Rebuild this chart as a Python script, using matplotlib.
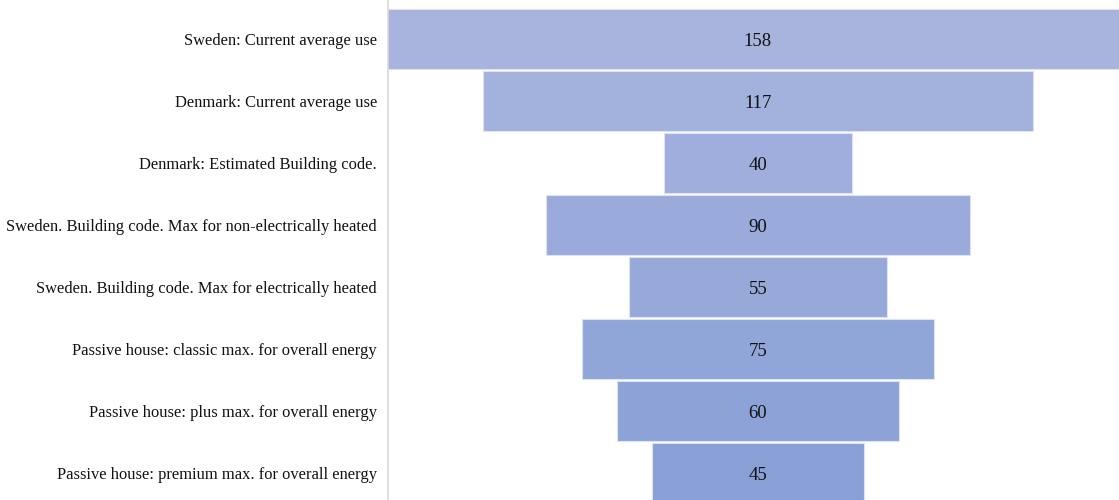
import matplotlib.pyplot as plt
import numpy as np

labels = [
    "Sweden: Current average use",
    "Denmark: Current average use",
    "Denmark: Estimated Building code.",
    "Sweden. Building code. Max for non-electrically heated",
    "Sweden. Building code. Max for electrically heated",
    "Passive house: classic max. for overall energy",
    "Passive house: plus max. for overall energy",
    "Passive house: premium max. for overall energy",
]
values = [158, 117, 40, 90, 55, 75, 60, 45]

plt.rcParams['font.family'] = ['Liberation Serif', 'DejaVu Serif']

fig = plt.figure(figsize=(11.19, 5), dpi=100)
ax = fig.add_axes([388 / 1119, 0, 731 / 1119, 1])

top = np.array([0xa8, 0xb4, 0xde]) / 255
bot = np.array([0x88, 0xa0, 0xd6]) / 255
n = len(values)
ypos = np.arange(n)
for i, v in enumerate(values):
    c = top + (bot - top) * i / (n - 1)
    ax.barh(i, v, left=-v / 2, height=0.96, color=c,
            edgecolor='#dde3f3', linewidth=0.8)
    ax.text(0, i, str(v), ha='center', va='center_baseline', fontsize=13.5, color='#111111')

ax.set_xlim(-78.7, 76.8)
ax.set_ylim(7.435, -0.63)
ax.set_yticks(ypos)
ax.set_yticklabels(labels, fontsize=11.9, color='#111111')
ax.tick_params(axis='y', length=0, pad=8)
ax.set_xticks([])
for s in ['top', 'right', 'bottom']:
    ax.spines[s].set_visible(False)
ax.spines['left'].set_color('#d9d9d9')
ax.spines['left'].set_linewidth(1.2)

fig.savefig('out.png', dpi=100)
